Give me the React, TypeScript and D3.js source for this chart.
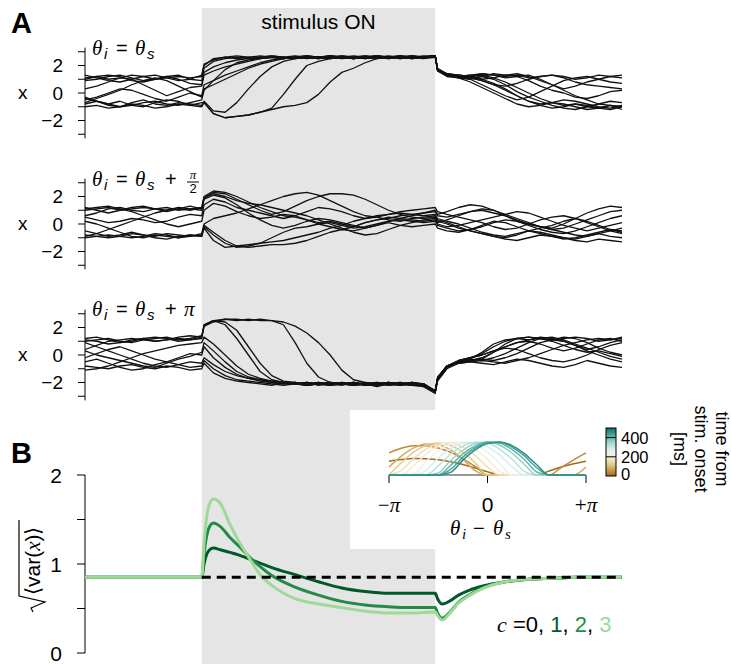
import React from "react";
import * as d3 from "d3";

// ---------- Panel A data (time in ms relative to stimulus onset) ----------
const timeA = [-250,-225,-200,-175,-150,-125,-100,-75,-50,-25,0,5,25,50,75,100,125,150,175,200,225,250,275,300,325,350,375,400,425,450,475,500,505,525,550,575,600,625,650,675,700,725,750,775,800,825,850,875,900];

const tracesSame: number[][] = [
  [1.1,1.2,1.0,1.1,1.3,1.2,1.0,1.1,1.2,1.1,1.2, 2.0,2.5,2.6,2.5,2.6,2.7,2.6,2.5,2.6,2.7,2.6,2.5,2.6,2.7,2.6,2.5,2.6,2.7,2.6,2.6, 2.7, 1.8,1.4,1.3,1.2,1.3,1.1,0.8,0.4,0.0,-0.4,-0.7,-0.9,-0.8,-1.0,-1.1,-0.9,-1.0],
  [0.9,1.0,1.2,1.3,1.1,0.9,1.0,1.2,1.3,1.0,0.9, 1.8,2.3,2.5,2.6,2.5,2.6,2.7,2.6,2.5,2.6,2.6,2.7,2.6,2.5,2.6,2.7,2.6,2.5,2.6,2.7, 2.7, 1.7,1.3,1.2,1.3,1.4,1.3,1.2,1.3,1.1,1.2,1.3,1.2,1.0,1.1,1.3,1.2,1.3],
  [0.3,0.5,0.8,1.1,1.0,0.6,0.2,-0.2,0.1,0.4,0.5, 1.3,1.6,1.9,2.1,2.3,2.5,2.6,2.5,2.6,2.7,2.6,2.6,2.5,2.6,2.7,2.6,2.5,2.6,2.7,2.6, 2.7, 1.6,1.2,1.1,1.2,1.0,0.7,0.3,-0.2,-0.6,-0.9,-1.1,-1.0,-0.8,-0.9,-1.1,-1.2,-1.0],
  [-0.5,-0.3,0.0,0.3,0.2,-0.1,-0.4,-0.6,-0.3,0.0,-0.2, 0.6,0.9,1.3,1.6,1.9,2.2,2.4,2.5,2.6,2.6,2.5,2.7,2.6,2.5,2.6,2.6,2.7,2.6,2.5,2.6, 2.7, 1.7,1.3,1.2,1.0,0.6,0.2,-0.2,-0.5,-0.3,0.1,0.5,0.9,1.1,1.2,1.0,0.8,0.7],
  [-0.8,-0.6,-0.9,-1.0,-0.7,-0.5,-0.8,-0.9,-0.7,-0.8,-0.9, -0.6,-1.3,-1.4,-0.7,0.3,1.2,1.9,2.3,2.5,2.6,2.5,2.6,2.7,2.6,2.5,2.6,2.6,2.7,2.6,2.6, 2.7, 1.7,1.4,1.2,1.3,1.2,1.0,0.6,0.1,-0.3,-0.6,-0.9,-1.1,-1.2,-1.0,-0.8,-0.6,-0.7],
  [-0.3,-0.6,-0.8,-0.6,-0.9,-1.0,-0.7,-0.5,-0.6,-0.9,-0.7, -0.7,-1.5,-1.8,-1.7,-1.6,-1.4,-1.1,-0.1,1.0,2.0,2.3,2.5,2.6,2.5,2.6,2.7,2.6,2.6,2.5,2.6, 2.7, 1.7,1.3,1.3,1.2,1.4,1.3,1.1,1.2,1.3,1.0,0.6,0.2,-0.2,-0.5,-0.8,-0.9,-1.0],
  [-1.0,-0.9,-1.1,-1.0,-0.8,-0.9,-1.1,-1.0,-0.8,-0.9,-1.0, -0.7,-1.5,-1.8,-1.7,-1.6,-1.4,-1.2,-1.0,-0.9,-0.7,-0.1,0.8,1.5,1.8,2.2,2.5,2.6,2.6,2.7,2.6, 2.7, 1.7,1.4,1.2,1.1,0.9,0.6,0.5,0.7,1.0,1.2,1.3,1.1,0.8,0.6,0.5,0.4,0.3],
  [1.3,1.1,0.9,0.8,1.0,1.2,1.3,1.1,0.9,1.0,1.3, 2.1,2.4,2.6,2.7,2.6,2.5,2.6,2.6,2.7,2.6,2.5,2.6,2.7,2.6,2.5,2.6,2.6,2.7,2.6,2.5, 2.6, 1.6,1.3,1.1,1.0,1.2,1.4,1.3,1.2,0.9,0.5,0.2,0.0,-0.3,-0.4,-0.2,0.1,0.2],
  [-0.7,-0.4,-0.1,0.2,0.6,0.9,1.1,0.9,0.5,0.1,-0.3, 0.3,0.6,1.0,1.4,1.8,2.1,2.3,2.5,2.6,2.5,2.6,2.7,2.6,2.5,2.6,2.7,2.6,2.6,2.5,2.6, 2.7, 1.7,1.3,1.1,0.8,0.4,0.0,-0.4,-0.8,-1.0,-0.9,-0.7,-0.8,-1.0,-1.2,-1.1,-0.9,-1.2],
  [1.0,1.2,1.3,1.2,0.9,0.8,1.0,1.2,1.0,0.7,0.6, 1.5,1.9,2.2,2.4,2.5,2.6,2.7,2.6,2.5,2.6,2.6,2.7,2.6,2.5,2.6,2.7,2.6,2.5,2.6,2.6, 2.7, 1.7,1.4,1.3,1.2,1.0,1.1,1.3,1.4,1.2,0.9,0.6,0.3,0.5,0.8,1.0,1.2,1.1],
  [-0.4,-0.6,-0.8,-1.0,-0.9,-0.7,-0.6,-0.8,-0.9,-0.7,-0.5, 0.2,0.9,1.7,2.2,2.4,2.5,2.6,2.5,2.6,2.7,2.6,2.5,2.6,2.6,2.7,2.6,2.5,2.6,2.7,2.6, 2.7, 1.7,1.4,1.2,1.1,0.9,0.6,0.2,-0.2,-0.6,-0.8,-0.7,-0.5,-0.6,-0.8,-1.0,-1.1,-0.9],
];

const tracesHalfPi: number[][] = [
  [1.0,1.1,1.2,1.0,1.1,1.2,1.1,1.0,1.2,1.1,1.2, 2.0,2.4,2.3,2.0,1.6,1.2,0.9,0.6,0.5,0.3,0.1,0.2,0.0,-0.2,0.1,0.3,0.4,0.6,0.7,0.8, 0.9, 0.6,0.5,0.7,0.9,1.0,0.8,0.6,0.3,0.0,-0.2,-0.4,-0.3,0.0,0.3,0.6,0.9,1.0],
  [1.2,1.0,0.8,1.0,1.2,1.3,1.1,0.9,1.1,1.3,1.1, 1.9,2.3,2.2,1.8,1.4,1.0,0.7,0.9,1.3,1.7,2.0,2.2,2.2,2.1,1.8,1.4,1.0,0.7,0.5,0.4, 0.5, 0.2,0.0,-0.3,-0.5,-0.7,-0.9,-1.0,-0.8,-0.5,-0.3,-0.1,0.2,0.4,0.2,-0.1,-0.4,-0.6],
  [0.6,0.8,1.1,1.2,1.0,0.9,1.1,1.2,1.0,1.1,1.0, 1.8,2.1,1.9,1.4,0.8,0.3,-0.1,-0.3,-0.1,0.2,0.4,0.3,0.1,-0.1,-0.3,-0.1,0.2,0.4,0.3,0.2, 0.3, 0.0,-0.2,-0.1,0.1,0.3,0.5,0.7,0.9,0.8,0.5,0.2,-0.1,-0.3,-0.5,-0.3,-0.1,0.1],
  [0.2,0.0,-0.3,-0.6,-0.9,-1.0,-0.8,-0.9,-1.0,-0.8,-0.9, -0.3,-1.2,-1.7,-1.6,-1.5,-1.4,-1.3,-1.2,-1.0,-0.8,-0.6,-0.3,-0.1,0.2,0.4,0.6,0.7,0.8,0.7,0.6, 0.7, 0.4,0.2,0.0,-0.3,-0.6,-0.8,-0.9,-0.7,-0.5,-0.6,-0.8,-1.0,-1.1,-0.9,-0.7,-0.9,-1.0],
  [-0.8,-0.9,-1.0,-0.9,-0.7,-0.8,-1.0,-1.1,-0.9,-0.8,-0.9, -0.2,-0.8,-1.4,-1.7,-1.6,-1.4,-1.0,-0.6,-0.3,-0.2,0.0,0.1,-0.1,-0.3,-0.2,0.0,0.2,0.3,0.2,0.1, 0.2, -0.1,-0.3,-0.5,-0.4,-0.2,0.1,0.3,0.2,0.0,-0.2,-0.4,-0.6,-0.8,-0.9,-0.7,-0.5,-0.3],
  [-0.9,-0.7,-0.4,-0.1,0.2,0.5,0.8,1.0,1.1,1.0,1.2, 1.9,2.2,2.0,1.7,1.5,1.4,1.2,1.0,0.8,0.6,0.3,0.0,-0.3,-0.6,-0.8,-0.7,-0.4,-0.1,0.1,0.3, 0.4, 0.1,0.3,0.6,0.9,1.1,1.0,0.7,0.4,0.1,-0.2,-0.3,0.0,0.4,0.8,1.1,1.3,1.2],
  [-0.5,-0.7,-0.9,-0.8,-0.6,-0.8,-0.9,-0.7,-0.8,-0.9,-0.7, 0.0,0.4,0.6,0.8,1.1,1.4,1.7,2.0,2.2,2.3,2.1,1.7,1.3,0.9,0.6,0.5,0.3,0.2,0.4,0.5, 0.6, 0.3,0.1,-0.2,-0.5,-0.7,-0.9,-1.1,-1.2,-1.0,-0.8,-0.9,-1.1,-1.0,-0.8,-0.6,-0.4,-0.5],
  [1.1,1.2,1.3,1.1,0.9,0.6,0.3,0.0,-0.2,0.0,0.2, 1.0,1.5,1.3,0.9,0.6,0.4,0.5,0.7,0.6,0.3,0.0,-0.2,-0.4,-0.2,0.1,0.3,0.5,0.4,0.6,0.8, 1.0, 0.7,0.9,1.2,1.4,1.3,1.0,0.6,0.2,-0.1,-0.4,-0.6,-0.7,-0.5,-0.2,0.1,0.4,0.6],
  [-1.0,-0.9,-0.8,-0.9,-1.0,-0.9,-0.7,-0.8,-1.0,-0.9,-0.8, -0.1,-0.6,-1.2,-1.6,-1.7,-1.6,-1.5,-1.5,-1.4,-1.2,-0.9,-0.6,-0.4,-0.5,-0.3,-0.1,0.1,-0.1,-0.2,-0.1, 0.0, -0.3,-0.5,-0.6,-0.4,-0.1,0.2,0.1,-0.2,-0.5,-0.7,-0.9,-1.0,-1.2,-1.3,-1.1,-1.2,-1.3],
  [0.5,0.3,0.1,0.2,0.4,0.3,0.1,0.2,0.5,0.7,0.6, 1.4,1.8,1.6,1.2,1.0,0.8,0.6,0.4,0.6,0.9,1.2,1.1,0.9,0.6,0.4,0.5,0.7,0.9,1.0,1.1, 1.2, 0.9,0.7,0.5,0.3,0.1,-0.2,-0.4,-0.3,0.0,0.3,0.5,0.6,0.4,0.1,-0.2,-0.5,-0.7],
];

const tracesPi: number[][] = [
  [1.0,1.1,1.2,1.0,0.9,1.1,1.2,1.3,1.1,1.2,1.4, 2.1,2.5,2.2,1.2,0.0,-1.2,-1.8,-2.0,-2.1,-2.0,-2.1,-2.2,-2.0,-2.1,-2.2,-2.1,-2.0,-2.1,-2.2,-2.3, -2.6, -1.6,-0.8,-0.5,-0.4,-0.3,0.2,0.8,1.2,1.3,1.2,1.1,1.3,1.2,0.9,0.5,0.2,0.0],
  [1.1,1.0,0.8,0.9,1.1,1.2,1.0,1.1,1.3,1.4,1.3, 2.2,2.5,2.4,1.8,0.6,-0.6,-1.5,-1.9,-2.0,-2.1,-2.0,-2.2,-2.1,-2.0,-2.2,-2.1,-2.1,-2.2,-2.0,-2.1, -2.6, -1.7,-0.8,-0.5,-0.3,0.2,0.8,1.1,1.2,1.1,1.3,1.2,1.0,0.7,0.4,0.6,0.9,1.1],
  [0.4,0.7,1.0,1.1,1.2,1.1,1.0,1.1,1.2,1.1,1.2, 2.2,2.5,2.6,2.5,2.6,2.5,2.5,2.2,0.9,-0.6,-1.6,-2.0,-2.1,-2.0,-2.2,-2.1,-2.0,-2.1,-2.2,-2.1, -2.7, -1.7,-0.8,-0.4,-0.2,0.1,0.6,1.0,1.2,1.3,1.2,1.1,1.2,1.3,1.2,1.0,1.1,1.3],
  [1.2,1.3,1.1,0.9,1.0,1.2,1.3,1.2,1.0,1.1,1.3, 2.1,2.4,2.6,2.6,2.5,2.6,2.5,2.4,2.1,1.6,0.9,0.0,-1.1,-1.8,-2.0,-2.1,-2.0,-2.2,-2.1,-2.2, -2.6, -1.8,-0.9,-0.5,-0.2,0.0,0.3,0.6,0.9,1.1,1.2,1.0,0.7,0.4,0.2,0.3,0.1,-0.1],
  [-0.2,0.1,0.4,0.6,0.3,0.0,-0.3,-0.5,-0.2,0.1,0.0, 0.6,-0.2,-0.9,-1.4,-1.7,-1.9,-2.0,-2.1,-2.0,-2.2,-2.1,-2.0,-2.1,-2.2,-2.0,-2.1,-2.2,-2.1,-2.0,-2.2, -2.7, -1.8,-0.9,-0.6,-0.4,-0.3,-0.4,-0.2,0.1,0.5,0.9,1.1,1.0,0.7,0.3,0.0,-0.3,-0.5],
  [-0.8,-0.9,-1.0,-0.8,-0.7,-0.9,-1.0,-0.8,-0.9,-1.1,-1.0, -0.6,-1.3,-1.7,-1.9,-2.0,-2.1,-2.2,-2.0,-2.1,-2.2,-2.1,-2.0,-2.1,-2.2,-2.1,-2.0,-2.1,-2.2,-2.1,-2.3, -2.8, -1.9,-1.0,-0.6,-0.5,-0.4,-0.5,-0.6,-0.4,-0.2,0.1,0.4,0.7,0.9,1.1,1.2,1.1,1.2],
  [-0.5,-0.3,-0.6,-0.9,-1.1,-1.0,-0.7,-0.5,-0.7,-0.9,-0.8, -0.4,-1.0,-1.5,-1.8,-1.9,-2.0,-2.1,-2.2,-2.1,-2.0,-2.2,-2.1,-2.0,-2.2,-2.1,-2.3,-2.1,-2.0,-2.1,-2.2, -2.7, -1.8,-0.9,-0.5,-0.3,-0.4,-0.2,0.1,0.5,0.9,1.2,1.3,1.1,0.8,0.5,0.2,-0.1,-0.3],
  [0.9,0.6,0.3,0.0,-0.3,-0.6,-0.8,-0.9,-0.7,-0.5,-0.6, -0.2,-0.7,-1.2,-1.5,-1.7,-1.8,-1.9,-2.0,-2.1,-2.2,-2.0,-2.1,-2.2,-2.0,-2.1,-2.2,-2.1,-2.0,-2.2,-2.1, -2.7, -1.8,-0.9,-0.6,-0.5,-0.6,-0.7,-0.5,-0.3,-0.4,-0.6,-0.8,-0.9,-0.7,-0.4,-0.6,-0.8,-0.9],
  [-1.1,-1.0,-0.8,-0.5,-0.2,0.1,0.3,0.5,0.7,0.8,0.9, 1.3,0.8,0.0,-0.8,-1.4,-1.7,-1.9,-2.0,-2.1,-2.0,-2.1,-2.2,-2.1,-2.0,-2.1,-2.2,-2.0,-2.1,-2.2,-2.1, -2.6, -1.7,-0.8,-0.5,-0.4,-0.2,0.2,0.6,0.9,1.0,0.8,0.5,0.3,0.5,0.8,1.1,1.2,1.0],
  [0.3,0.0,-0.2,-0.4,-0.6,-0.8,-0.9,-0.6,-0.3,-0.1,0.2, 0.9,0.3,-0.5,-1.2,-1.6,-1.8,-2.0,-2.1,-2.0,-2.2,-2.1,-2.0,-2.1,-2.2,-2.1,-2.0,-2.2,-2.1,-2.0,-2.1, -2.6, -1.7,-0.8,-0.4,-0.2,0.0,0.3,0.5,0.4,0.1,-0.2,-0.4,-0.5,-0.3,0.0,0.4,0.7,0.9],
];

const ticksA = [-3, -2, -1, 0, 1, 2, 3];
const labelsA = [-2, 0, 2];

// ---------- Panel B data ----------
const timeB = [-250,-200,-150,-100,-50,0,5,10,15,25,40,60,80,100,125,150,200,250,300,350,400,450,500,505,515,530,550,575,600,650,700,750,800,850,900];
const varC1 = [0.85,0.85,0.85,0.85,0.85,0.85, 1.0,1.1,1.15,1.18,1.16,1.13,1.1,1.06,1.01,0.96, 0.88,0.8,0.73,0.69,0.67,0.67,0.67, 0.61,0.55,0.58,0.65,0.71,0.75,0.80,0.83,0.84,0.85,0.85,0.85];
const varC2 = [0.85,0.85,0.85,0.85,0.85,0.85, 1.12,1.3,1.4,1.46,1.42,1.3,1.2,1.09,0.97,0.87, 0.74,0.65,0.58,0.54,0.52,0.51,0.51, 0.45,0.39,0.45,0.57,0.66,0.73,0.80,0.83,0.84,0.85,0.85,0.85];
const varC3 = [0.85,0.85,0.85,0.85,0.85,0.85, 1.25,1.5,1.65,1.73,1.68,1.45,1.25,1.08,0.88,0.76, 0.61,0.55,0.51,0.47,0.45,0.45,0.46, 0.42,0.37,0.44,0.56,0.65,0.72,0.80,0.83,0.84,0.85,0.85,0.85];
const dashTimes = [0, 900];
const dashVals = [0.85, 0.85];
const ticksB = [0, 0.5, 1, 1.5, 2];
const labelsB = [0, 1, 2];
const greens = ["#00592a", "#238b45", "#9fd997"];

// ---------- Inset data (theta_i - theta_s in units of pi) ----------
const insetU = [-1,-0.875,-0.75,-0.625,-0.5,-0.375,-0.25,-0.125,0,0.125,0.25,0.375,0.5,0.625,0.75,0.875,1];
const insetTimes = [0,40,80,120,160,200,240,280,320,360,400,430,460];
const insetCurves: number[][] = [
  [0.42,0.47,0.50,0.49,0.46,0.40,0.32,0.21,0.10,0,0,0,0,0.12,0.24,0.34,0.42],
  [0.67,0.81,0.89,0.89,0.82,0.69,0.49,0.26,0,0,0,0,0,0,0.23,0.46,0.67],
  [0.24,0.57,0.82,0.94,0.92,0.76,0.48,0.13,0,0,0,0,0,0,0,0,0.24],
  [0,0.37,0.69,0.90,0.97,0.90,0.69,0.37,0,0,0,0,0,0,0,0,0],
  [0,0.14,0.50,0.78,0.95,0.97,0.84,0.59,0.24,0,0,0,0,0,0,0,0],
  [0,0,0.28,0.63,0.88,0.99,0.96,0.78,0.48,0.11,0,0,0,0,0,0,0],
  [0,0,0.03,0.41,0.73,0.94,1.0,0.91,0.69,0.35,0,0,0,0,0,0,0],
  [0,0,0,0.14,0.51,0.80,0.97,0.99,0.86,0.60,0.25,0,0,0,0,0,0],
  [0,0,0,0,0.28,0.63,0.88,0.99,0.96,0.78,0.48,0.11,0,0,0,0,0],
  [0,0,0,0,0.06,0.44,0.75,0.95,1.0,0.90,0.66,0.32,0,0,0,0,0],
  [0,0,0,0,0,0.29,0.64,0.88,1.0,0.96,0.77,0.47,0.09,0,0,0,0],
  [0,0,0,0,0,0.17,0.54,0.82,0.98,0.99,0.84,0.58,0.22,0,0,0,0],
  [0,0,0,0,0,0.08,0.45,0.76,0.95,1.0,0.89,0.65,0.31,0,0,0,0],
];
const insetTicks = [-1, 0, 1];
const cbTicks = [0, 200, 400];

const SANS = "'Liberation Sans', Arial, Helvetica, sans-serif";
const SERIF = "'Liberation Serif', 'DejaVu Serif', serif";

const cmap = (t: number) => d3.interpolateBrBG(0.15 + 0.73 * t / 500);
const fmt = (v: number) => (v < 0 ? "\u2212" + Math.abs(v) : String(v));

function Theta({ x, y, sub, subSerif }: { x: number; y: number; sub: string; subSerif?: boolean }) {
  return (
    <g>
      <text x={x} y={y} fontFamily={SERIF} fontStyle="italic" fontSize={21}>θ</text>
      <text x={x + 12} y={y + 4} fontFamily={subSerif ? SERIF : SANS} fontStyle="italic" fontSize={15}>{sub}</text>
    </g>
  );
}

export default function App() {
  const x = d3.scaleLinear().domain([-250, 900]).range([85, 622]);
  const zeros = [93, 224, 355];
  const yA = zeros.map((z) => d3.scaleLinear().domain([-3, 3]).range([z + 41.25, z - 41.25]));
  const yB = d3.scaleLinear().domain([0, 2]).range([653, 475]);
  const xI = d3.scaleLinear().domain([-1, 1]).range([389, 586]);
  const yI = d3.scaleLinear().domain([0, 1]).range([475, 442]);
  const cbY = d3.scaleLinear().domain([0, 500]).range([476, 428]);

  const panels = [tracesSame, tracesHalfPi, tracesPi];

  const lineB = (vals: number[]) =>
    d3.line<number>().x((_, i) => x(timeB[i])).y((d) => yB(d)).curve(d3.curveMonotoneX)(vals) || "";
  const lineI = d3.line<number>().x((_, i) => xI(insetU[i])).y((d) => yI(d)).curve(d3.curveMonotoneX);

  const gradStops = d3.range(0, 11).map((i) => ({ o: i / 10, c: cmap(i * 50) }));

  return (
    <svg width={731} height={664} style={{ position: "absolute", left: 0, top: 0, background: "#fff" }} fontFamily={SANS}>
      <defs>
        <linearGradient id="cbgrad" x1="0" y1="1" x2="0" y2="0">
          {gradStops.map((s) => (
            <stop key={s.o} offset={s.o} stopColor={s.c} />
          ))}
        </linearGradient>
      </defs>
      <rect x={0} y={0} width={731} height={664} fill="#fff" />
      {/* stimulus band */}
      <rect x={x(0)} y={8} width={x(500) - x(0)} height={656} fill="#e5e5e5" />
      <text x={(x(0) + x(500)) / 2} y={29} textAnchor="middle" fontSize={21}>stimulus ON</text>

      {/* panel labels */}
      <text x={11} y={33} fontSize={29} fontWeight="bold">A</text>
      <text x={11} y={463} fontSize={29} fontWeight="bold">B</text>

      {/* Panel A */}
      {panels.map((traces, p) => {
        const y = yA[p];
        const ln = d3.line<number>().x((_, i) => x(timeA[i])).y((d) => y(d));
        return (
          <g key={p}>
            <line x1={85} x2={85} y1={y(-3.3)} y2={y(3.3)} stroke="#000" strokeWidth={1} />
            {ticksA.map((v) => (
              <line key={v} x1={78} x2={85} y1={y(v)} y2={y(v)} stroke="#000" strokeWidth={1} />
            ))}
            {labelsA.map((v) => (
              <text key={v} x={63} y={y(v)} dy="0.36em" textAnchor="end" fontSize={19}>{fmt(v)}</text>
            ))}
            <text x={18} y={y(0)} dy="0.3em" fontSize={19}>x</text>
            {traces.map((tr, k) => (
              <path key={k} d={ln(tr) || ""} fill="none" stroke="#111" strokeWidth={1.3} strokeLinejoin="round" />
            ))}
          </g>
        );
      })}

      {/* Panel A titles */}
      <g>
        <Theta x={92} y={55} sub="i" />
        <text x={116} y={55} fontSize={20}>=</text>
        <Theta x={135} y={55} sub="s" />
      </g>
      <g>
        <Theta x={92} y={186} sub="i" />
        <text x={116} y={186} fontSize={20}>=</text>
        <Theta x={135} y={186} sub="s" />
        <text x={165} y={186} fontSize={20}>+</text>
        <text x={193} y={179} textAnchor="middle" fontFamily={SERIF} fontStyle="italic" fontSize={13}>π</text>
        <line x1={187} x2={199} y1={182} y2={182} stroke="#000" strokeWidth={1} />
        <text x={193} y={193} textAnchor="middle" fontSize={13}>2</text>
      </g>
      <g>
        <Theta x={92} y={316} sub="i" />
        <text x={116} y={316} fontSize={20}>=</text>
        <Theta x={135} y={316} sub="s" />
        <text x={165} y={316} fontSize={20}>+</text>
        <text x={184} y={316} fontFamily={SERIF} fontStyle="italic" fontSize={21}>π</text>
      </g>

      {/* Panel B */}
      <line x1={85} x2={85} y1={yB(0)} y2={yB(2)} stroke="#000" strokeWidth={1} />
      {ticksB.map((v) => (
        <line key={v} x1={77} x2={85} y1={yB(v)} y2={yB(v)} stroke="#000" strokeWidth={1} />
      ))}
      {labelsB.map((v) => (
        <text key={v} x={62} y={yB(v)} dy="0.36em" textAnchor="end" fontSize={21}>{v}</text>
      ))}
      <g transform={`translate(40,558) rotate(-90)`}>
        <path d="M -54 -7 L -50 -9 L -44 5 L -38 -21 L 38 -21" fill="none" stroke="#000" strokeWidth={1.2} />
        <text x={-37} y={0} fontSize={21}>
          ⟨var(<tspan fontFamily={SERIF} fontStyle="italic">x</tspan>)⟩
        </text>
      </g>
      {[varC1, varC2, varC3].map((v, i) => (
        <path key={i} d={lineB(v)} fill="none" stroke={greens[i]} strokeWidth={3} strokeLinejoin="round" />
      ))}
      <path
        d={d3.line<number>().x((_, i) => x(dashTimes[i])).y((d) => yB(d))(dashVals) || ""}
        fill="none" stroke="#000" strokeWidth={3} strokeDasharray="9 6"
      />
      <text x={497} y={632} fontSize={22}>
        <tspan fontFamily={SERIF} fontStyle="italic">c</tspan>
        <tspan> =0, </tspan>
        <tspan fill={greens[0]}>1</tspan>
        <tspan>, </tspan>
        <tspan fill={greens[1]}>2</tspan>
        <tspan>, </tspan>
        <tspan fill={greens[2]}>3</tspan>
      </text>

      {/* Inset */}
      <rect x={350} y={410} width={381} height={139} fill="#fff" />
      <line x1={xI(-1)} x2={xI(1)} y1={yI(0)} y2={yI(0)} stroke="#333" strokeWidth={1} />
      {insetTicks.map((v) => (
        <line key={v} x1={xI(v)} x2={xI(v)} y1={yI(0)} y2={yI(0) + 8} stroke="#000" strokeWidth={1} />
      ))}
      {insetCurves.map((c, i) => (
        <path key={i} d={lineI(c) || ""} fill="none" stroke={cmap(insetTimes[i])} strokeWidth={1.5} />
      ))}
      <text x={xI(-1)} y={512} textAnchor="middle" fontFamily={SERIF} fontSize={21}>
        −<tspan fontStyle="italic">π</tspan>
      </text>
      <text x={xI(0)} y={512} textAnchor="middle" fontSize={21}>0</text>
      <text x={xI(1)} y={512} textAnchor="middle" fontFamily={SERIF} fontSize={21}>
        +<tspan fontStyle="italic">π</tspan>
      </text>
      <g>
        <Theta x={450} y={535} sub="i" subSerif />
        <text x={473} y={535} fontSize={20}>−</text>
        <Theta x={493} y={535} sub="s" subSerif />
      </g>

      {/* colorbar */}
      <rect x={606} y={cbY(500)} width={10} height={cbY(0) - cbY(500)} fill="url(#cbgrad)" stroke="#000" strokeWidth={1} />
      {cbTicks.map((v) => (
        <g key={v}>
          {v > 0 && <line x1={606} x2={616} y1={cbY(v)} y2={cbY(v)} stroke="#000" strokeWidth={1} />}
          <text x={621} y={v === 0 ? cbY(v) - 2 : cbY(v)} dy="0.36em" fontSize={16.5}>{v}</text>
        </g>
      ))}
      <text transform="translate(716,449) rotate(90)" textAnchor="middle" fontSize={18}>time from</text>
      <text transform="translate(695,449) rotate(90)" textAnchor="middle" fontSize={18}>stim. onset</text>
      <text transform="translate(674,449) rotate(90)" textAnchor="middle" fontSize={18}>[ms]</text>
    </svg>
  );
}
